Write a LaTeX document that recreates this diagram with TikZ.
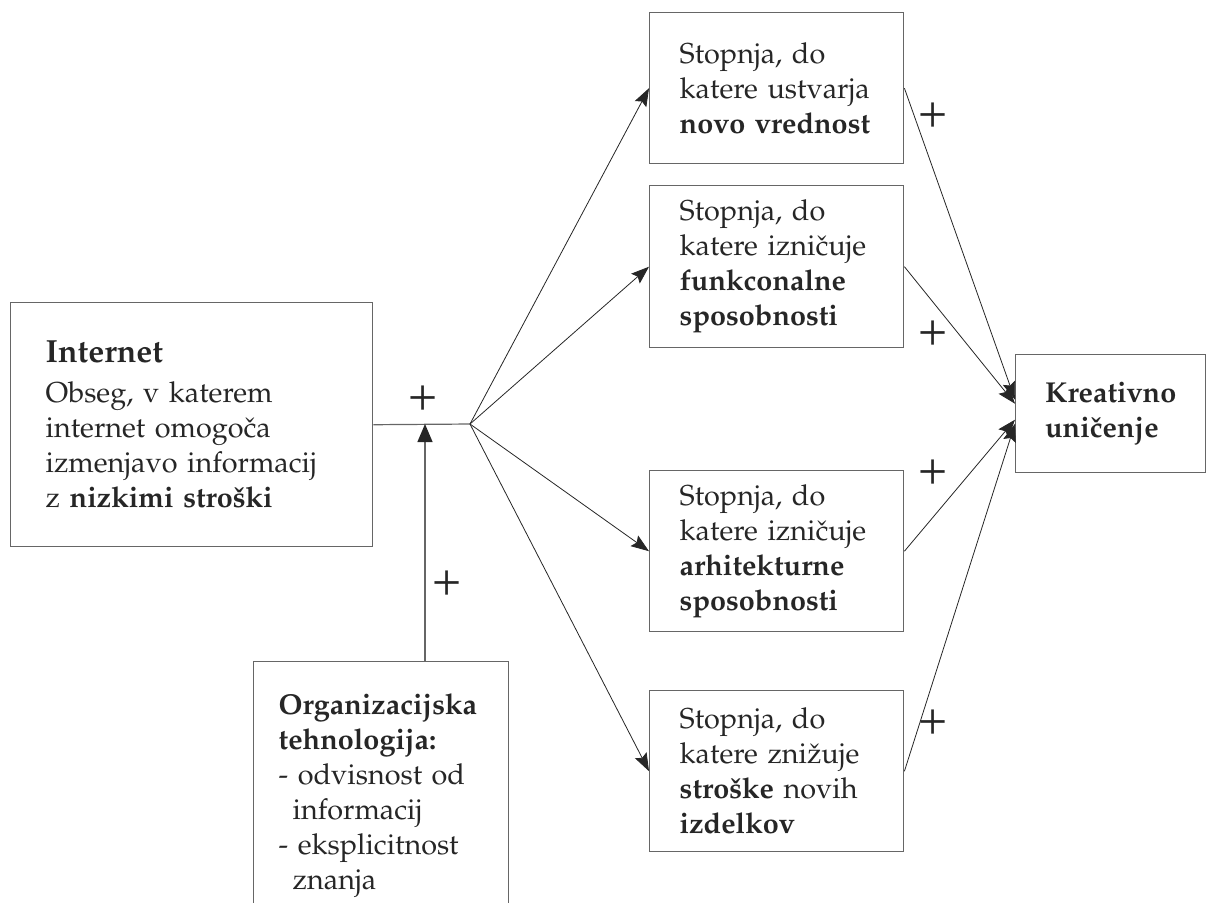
\documentclass[tikz,border=0pt]{standalone}
\usepackage[T1]{fontenc}
\usepackage{mathpazo}
\usetikzlibrary{arrows.meta}
\tikzset{
	box/.style={draw=black!60, line width=0.7pt, text=black!85, align=left, anchor=north west, font=\fontsize{14.4}{17.5}\selectfont},
	stopbox/.style={box, text width=97pt, inner xsep=15pt, inner ysep=0pt},
	wire/.style={draw=black!60, line width=0.6pt},
	link/.style={draw=black!85, line width=0.4pt, -{Stealth[length=9pt,width=6.5pt,inset=1.5pt]}},
	stem/.style={wire, -{Triangle[length=9pt,width=7.5pt,color=black!85]}},
	plus/.style={font=\fontsize{24}{24}\selectfont, text=black!85, inner sep=0pt}
}
\begin{document}
\begin{tikzpicture}[x=0.5pt, y=-0.5pt]
	\useasboundingbox (0,0) rectangle (1208,902);
	% left side
	\node[box, text width=146pt, inner xsep=17.5pt, minimum height=122pt] (inet) at (10,302) {{\fontsize{16}{20}\selectfont\bfseries Internet}\\[2.5pt]
		Obseg, v katerem\\ internet omogo\v{c}a\\ izmenjavo informacij\\ z \textbf{nizkimi stro\v{s}ki}};
	\node[box, text width=102.5pt, inner xsep=12.5pt, inner ysep=16pt] (org) at (253,661) {\textbf{Organizacijska}\\ \textbf{tehnologija:}\\
		- odvisnost od\\ \hspace*{7pt}informacij\\ - eksplicitnost\\ \hspace*{7pt}znanja};
	\coordinate (jn) at (470,424);
	\coordinate (up) at (425,424);
	% four measures
	\node[stopbox, minimum height=75.5pt] (b1) at (649,12) {Stopnja, do\\ katere ustvarja\\ \textbf{novo vrednost}};
	\node[stopbox, minimum height=81pt] (b2) at (649,185) {Stopnja, do\\ katere izni\v{c}uje\\ \textbf{funkconalne}\\ \textbf{sposobnosti}};
	\node[stopbox, minimum height=80.5pt] (b3) at (649,470) {Stopnja, do\\ katere izni\v{c}uje\\ \textbf{arhitekturne}\\ \textbf{sposobnosti}};
	\node[stopbox, minimum height=80.5pt] (b4) at (649,690) {Stopnja, do\\ katere zni\v{z}uje\\ \textbf{stro\v{s}ke} novih\\ \textbf{izdelkov}};
	\node[box, minimum width=95pt, minimum height=59pt] (kre) at (1015,354) {\textbf{Kreativno}\\ \textbf{uni\v{c}enje}};
	% connectors
	\draw[wire] (inet.east) -- (jn);
	\draw[stem] (org.north -| up) -- (up);
	\foreach \b in {b1,b2,b3,b4}
		\draw[link] (jn) -- (\b.west);
	\draw[link] (b1.east) -- ([yshift=7pt]kre.west);
	\draw[link] (b2.east) -- ([yshift=5pt]kre.west);
	\draw[link] (b3.east) -- ([yshift=-3pt]kre.west);
	\draw[link] (b4.east) -- ([yshift=-5pt]kre.west);
	% signs
	\node[plus] (p1) at (423,398) {+};
	\node[plus] (p2) at (447,583) {+};
	\node[plus] (p3) at (933,115) {+};
	\node[plus] (p4) at (933,333) {+};
	\node[plus] (p5) at (933,472) {+};
	\node[plus] (p6) at (933,722) {+};
\end{tikzpicture}
\end{document}
